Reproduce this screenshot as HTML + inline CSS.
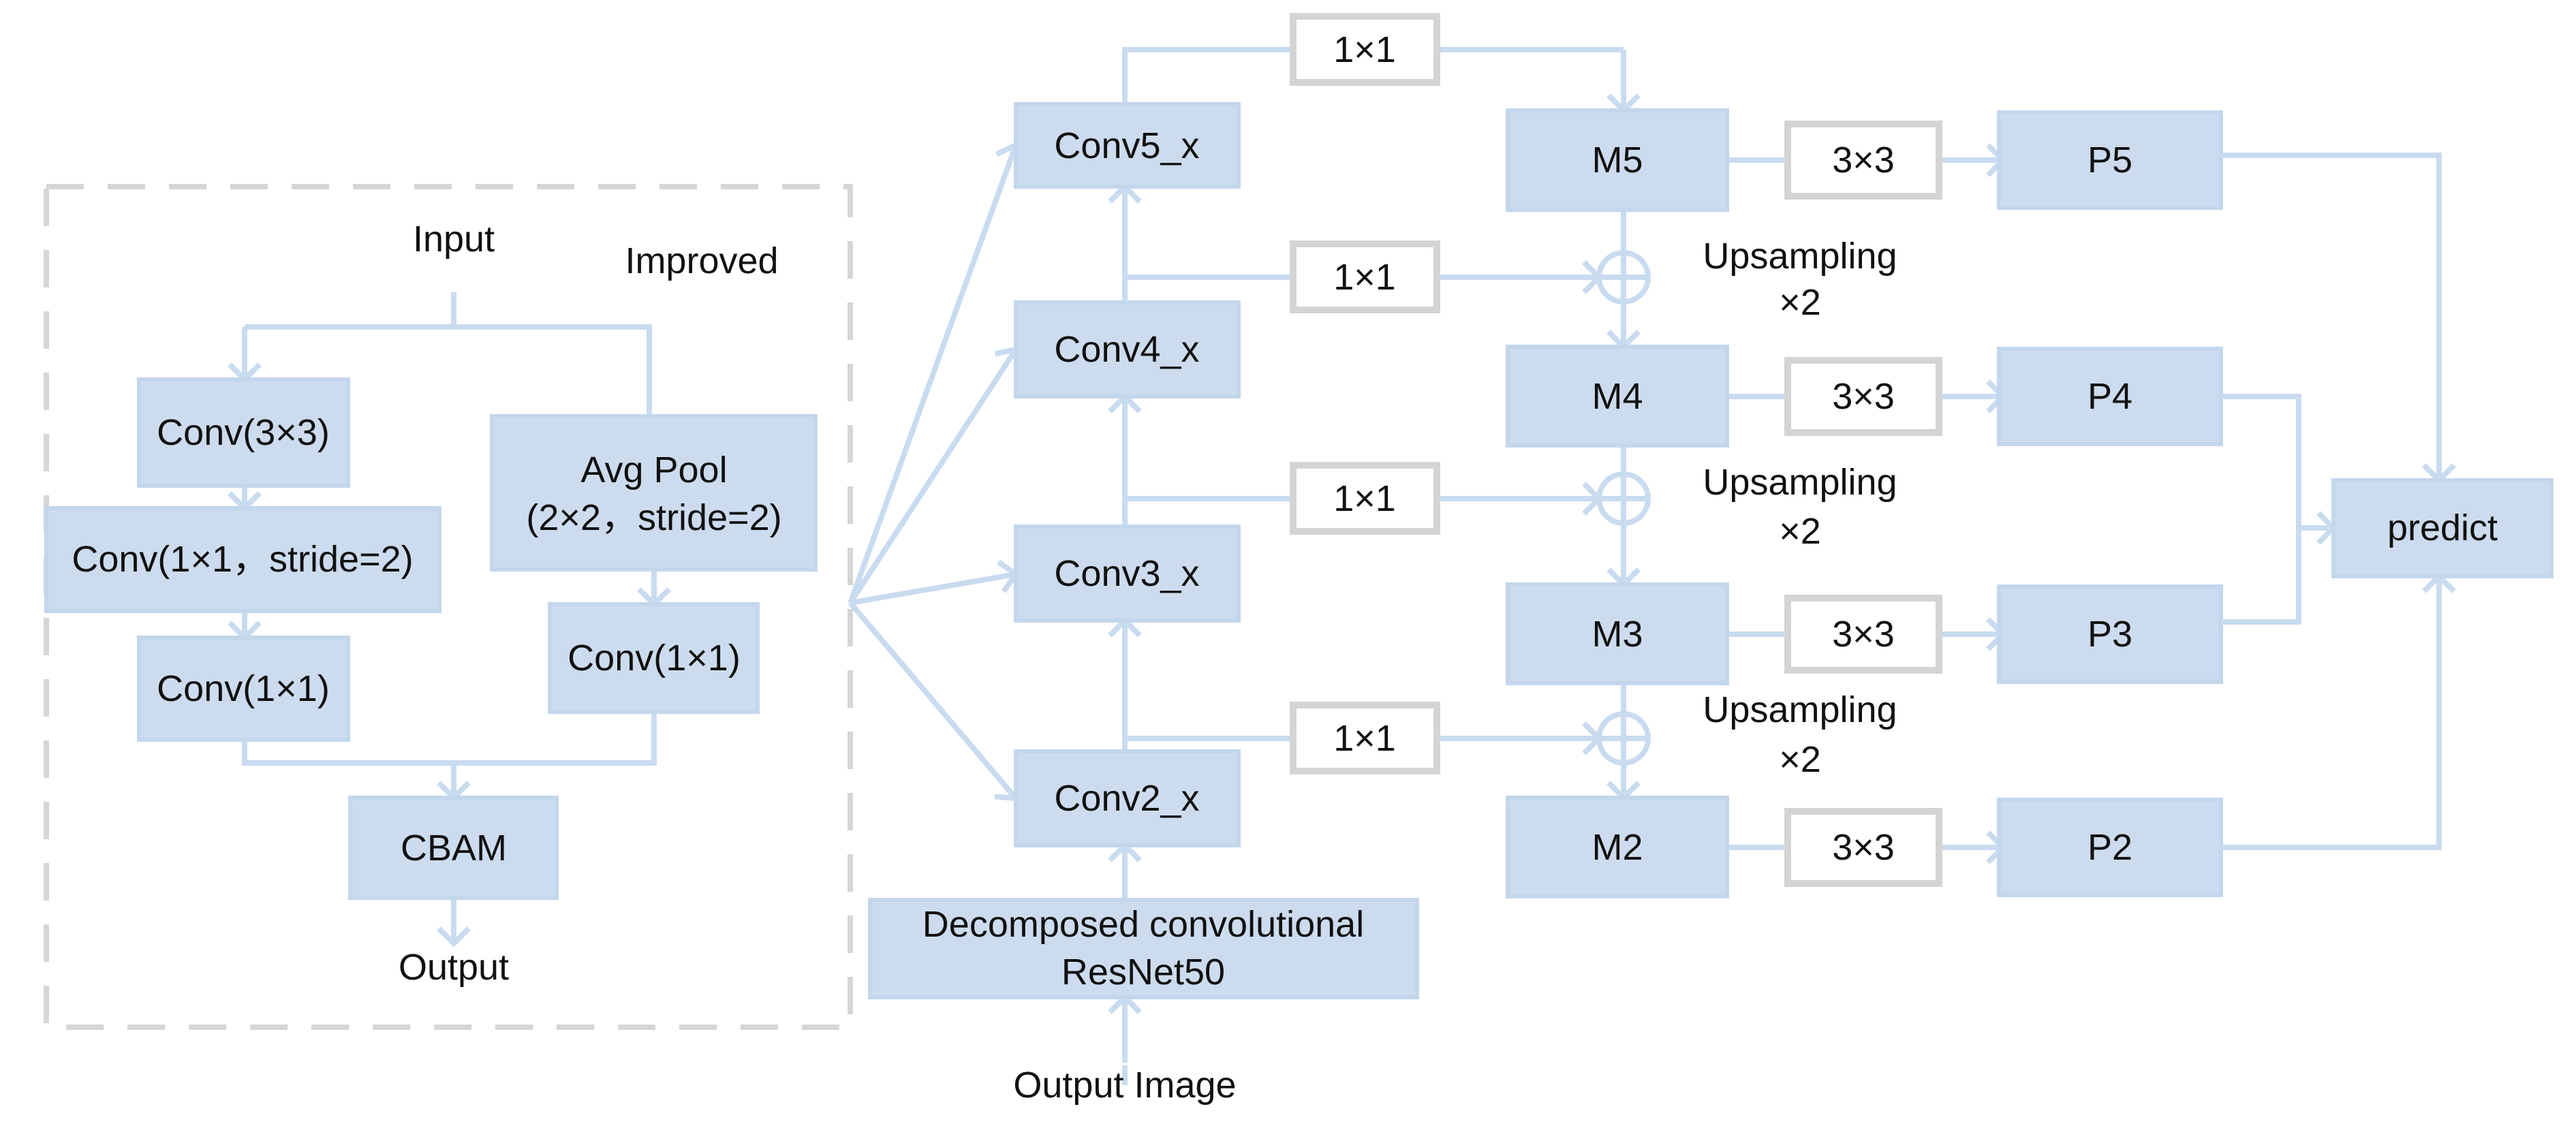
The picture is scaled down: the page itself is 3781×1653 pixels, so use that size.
<!DOCTYPE html>
<html><head><meta charset="utf-8"><style>
html,body{margin:0;padding:0;background:#fff;}
svg{display:block;}
text{font-family:"Liberation Sans","DejaVu Sans",sans-serif;font-size:54px;fill:#111;text-anchor:middle;dominant-baseline:central;}
.b{fill:#ccdcee;stroke:#c3d6ec;stroke-width:6;}
.g{fill:#fff;stroke:#d4d4d4;stroke-width:10;}
.l{fill:none;stroke:#c9dbef;stroke-width:8;}
</style></head><body>
<svg width="3781" height="1653" viewBox="0 0 3781 1653" xmlns="http://www.w3.org/2000/svg">
<defs>
<marker id="a" markerUnits="userSpaceOnUse" markerWidth="60" markerHeight="60" refX="40" refY="30" orient="auto">
<path d="M18 8 L40 30 L18 52" fill="none" stroke="#c9dbef" stroke-width="8"/>
</marker>
</defs>
<rect x="68" y="274" width="1180" height="1234" fill="none" stroke="#d6d6d6" stroke-width="8" stroke-dasharray="55,35"/>
<text x="666" y="351">Input</text>
<text x="1030" y="383">Improved</text>
<path class="l" d="M666 429 V480 M359 480 H953 V611"/>
<path class="l" d="M359 480 V557" marker-end="url(#a)"/>
<path class="l" d="M359 713 V746" marker-end="url(#a)"/>
<path class="l" d="M359 897 V936" marker-end="url(#a)"/>
<path class="l" d="M960 836 V887" marker-end="url(#a)"/>
<path class="l" d="M359 1086 V1120 H960 V1045"/>
<path class="l" d="M666 1120 V1171" marker-end="url(#a)"/>
<path class="l" d="M666 1318 V1385" marker-end="url(#a)"/>
<rect class="b" x="204" y="557" width="307" height="156"/>
<text x="357" y="635">Conv(3×3)</text>
<rect class="b" x="68" y="746" width="577" height="151"/>
<text x="356" y="821">Conv(1×1，stride=2)</text>
<rect class="b" x="204" y="936" width="307" height="150"/>
<text x="357" y="1011">Conv(1×1)</text>
<rect class="b" x="722" y="611" width="475" height="225"/>
<text x="960" y="690">Avg Pool</text>
<text x="960" y="760">(2×2，stride=2)</text>
<rect class="b" x="807" y="887" width="305" height="158"/>
<text x="960" y="966">Conv(1×1)</text>
<rect class="b" x="514" y="1171" width="303" height="147"/>
<text x="666" y="1245">CBAM</text>
<text x="666" y="1420">Output</text>
<path class="l" d="M1248 885 L1491 213" marker-end="url(#a)"/>
<path class="l" d="M1248 885 L1491 513" marker-end="url(#a)"/>
<path class="l" d="M1248 885 L1491 843" marker-end="url(#a)"/>
<path class="l" d="M1248 885 L1491 1172" marker-end="url(#a)"/>
<path class="l" d="M1651 1593 V1564"/>
<path class="l" d="M1651 1560 V1464" marker-end="url(#a)"/>
<path class="l" d="M1651 1321 V1241" marker-end="url(#a)"/>
<path class="l" d="M1651 1103 V911" marker-end="url(#a)"/>
<path class="l" d="M1651 773 V582" marker-end="url(#a)"/>
<path class="l" d="M1651 444 V274" marker-end="url(#a)"/>
<path class="l" d="M1651 153 V73 H1898 M2109 73 H2383"/>
<path class="l" d="M2383 73 V162" marker-end="url(#a)"/>
<path class="l" d="M1651 407 H1898 M1651 732 H1898 M1651 1084 H1898"/>
<path class="l" d="M2109 407 H2347" marker-end="url(#a)"/>
<path class="l" d="M2109 732 H2347" marker-end="url(#a)"/>
<path class="l" d="M2109 1084 H2347" marker-end="url(#a)"/>
<g class="l">
<circle cx="2383" cy="407" r="36"/><path d="M2347 407 H2419"/>
<circle cx="2383" cy="732" r="36"/><path d="M2347 732 H2419"/>
<circle cx="2383" cy="1084" r="36"/><path d="M2347 1084 H2419"/>
</g>
<path class="l" d="M2383 308 V509" marker-end="url(#a)"/>
<path class="l" d="M2383 654 V858" marker-end="url(#a)"/>
<path class="l" d="M2383 1003 V1171" marker-end="url(#a)"/>
<g>
<rect class="b" x="1491" y="153" width="327" height="121"/><text x="1654" y="214">Conv5_x</text>
<rect class="b" x="1491" y="444" width="327" height="138"/><text x="1654" y="513">Conv4_x</text>
<rect class="b" x="1491" y="773" width="327" height="138"/><text x="1654" y="842">Conv3_x</text>
<rect class="b" x="1491" y="1103" width="327" height="138"/><text x="1654" y="1172">Conv2_x</text>
<rect class="b" x="1277" y="1321" width="803" height="143"/>
<text x="1678" y="1357">Decomposed convolutional</text>
<text x="1678" y="1427">ResNet50</text>
<text x="1651" y="1593">Output Image</text>
</g>
<g>
<rect class="g" x="1898" y="24" width="211" height="97"/><text x="2003" y="73">1×1</text>
<rect class="g" x="1898" y="358" width="211" height="97"/><text x="2003" y="407">1×1</text>
<rect class="g" x="1898" y="683" width="211" height="97"/><text x="2003" y="732">1×1</text>
<rect class="g" x="1898" y="1035" width="211" height="97"/><text x="2003" y="1084">1×1</text>
</g>
<g>
<path class="l" d="M2535 235 H2637 M2535 582 H2637 M2535 931 H2637 M2535 1244 H2637"/>
<path class="l" d="M2841 235 H2940" marker-end="url(#a)"/>
<path class="l" d="M2841 582 H2940" marker-end="url(#a)"/>
<path class="l" d="M2841 931 H2940" marker-end="url(#a)"/>
<path class="l" d="M2841 1244 H2940" marker-end="url(#a)"/>
<rect class="b" x="2213" y="162" width="322" height="146"/><text x="2374" y="235">M5</text>
<rect class="b" x="2213" y="509" width="322" height="145"/><text x="2374" y="582">M4</text>
<rect class="b" x="2213" y="858" width="322" height="145"/><text x="2374" y="931">M3</text>
<rect class="b" x="2213" y="1171" width="322" height="145"/><text x="2374" y="1244">M2</text>
<rect class="g" x="2624" y="182" width="222" height="106"/><text x="2735" y="235">3×3</text>
<rect class="g" x="2624" y="529" width="222" height="106"/><text x="2735" y="582">3×3</text>
<rect class="g" x="2624" y="878" width="222" height="106"/><text x="2735" y="931">3×3</text>
<rect class="g" x="2624" y="1191" width="222" height="106"/><text x="2735" y="1244">3×3</text>
<rect class="b" x="2934" y="165" width="326" height="140"/><text x="3097" y="235">P5</text>
<rect class="b" x="2934" y="512" width="326" height="140"/><text x="3097" y="582">P4</text>
<rect class="b" x="2934" y="861" width="326" height="140"/><text x="3097" y="931">P3</text>
<rect class="b" x="2934" y="1174" width="326" height="140"/><text x="3097" y="1244">P2</text>
<text x="2642" y="376">Upsampling</text><text x="2642" y="444">×2</text>
<text x="2642" y="708">Upsampling</text><text x="2642" y="780">×2</text>
<text x="2642" y="1042">Upsampling</text><text x="2642" y="1115">×2</text>
</g>
<path class="l" d="M3260 228 H3580 V705" marker-end="url(#a)"/>
<path class="l" d="M3260 582 H3374 V913 H3260"/>
<path class="l" d="M3374 775 H3425" marker-end="url(#a)"/>
<path class="l" d="M3260 1244 H3580 V846" marker-end="url(#a)"/>
<rect class="b" x="3425" y="705" width="320" height="141"/><text x="3585" y="775">predict</text>
</svg>
</body></html>
